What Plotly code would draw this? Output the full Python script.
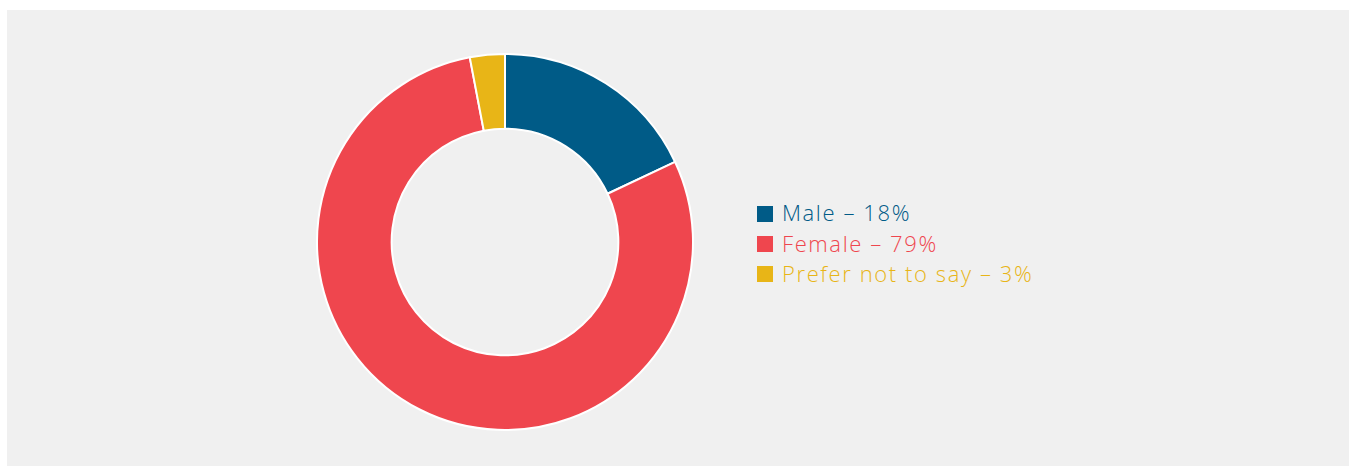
import plotly.graph_objects as go

# Survey response shares by gender
categories = ["Male", "Female", "Prefer not to say"]
shares = [18, 79, 3]
colors = ["#005b87", "#ef464e", "#e8b517"]

W, H = 1356, 468
cx, cy, R = 505, 242, 188

fig = go.Figure()
fig.add_trace(go.Pie(
    labels=categories,
    values=shares,
    sort=False,
    direction="clockwise",
    rotation=0,
    hole=0.603,
    marker=dict(colors=colors, line=dict(color="#ffffff", width=2)),
    textinfo="none",
    hoverinfo="label+percent",
    showlegend=False,
    domain=dict(x=[(cx - R) / W, (cx + R) / W],
                y=[1 - (cy + R) / H, 1 - (cy - R) / H]),
))

# Light grey panel behind the chart
shapes = [dict(type="rect", xref="paper", yref="paper", layer="below",
               x0=7 / W, x1=1349 / W, y0=1 - 466 / H, y1=1 - 10 / H,
               fillcolor="#f0f0f0", line=dict(width=0))]
annotations = []

# Custom legend: coloured square and matching coloured label per category
lx, ly0, step, sq = 757, 214, 30, 16
for i, (cat, val, col) in enumerate(zip(categories, shares, colors)):
    yc = ly0 + i * step
    shapes.append(dict(type="rect", xref="paper", yref="paper",
                       x0=lx / W, x1=(lx + sq) / W,
                       y0=1 - (yc + sq / 2) / H, y1=1 - (yc - sq / 2) / H,
                       fillcolor=col, line=dict(width=0)))
    label = f"<span style='letter-spacing:1.6px'>{cat} \u2013 {val}%</span>"
    annotations.append(dict(xref="paper", yref="paper",
                            x=(lx + 23) / W, y=1 - (yc - 1.5) / H,
                            xanchor="left", yanchor="middle",
                            text=label, showarrow=False,
                            font=dict(family="Open Sans", size=22,
                                      weight=300, color=col)))

fig.update_layout(
    width=W, height=H,
    margin=dict(l=0, r=0, t=0, b=0),
    paper_bgcolor="#ffffff",
    plot_bgcolor="#ffffff",
    shapes=shapes,
    annotations=annotations,
)

fig.write_html("out.html")
